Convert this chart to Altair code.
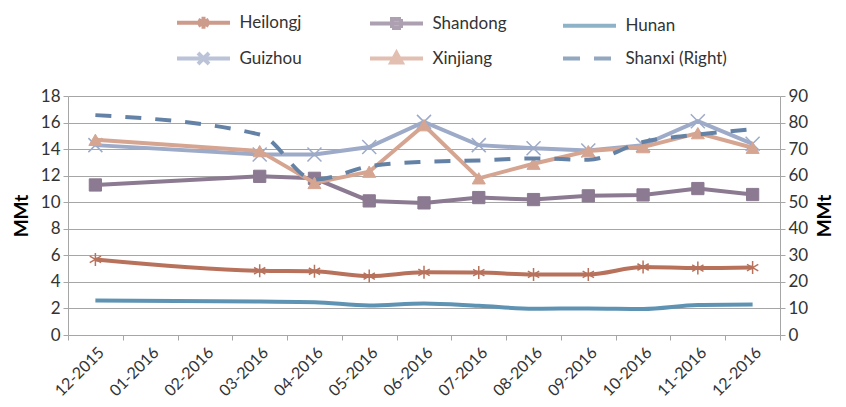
import altair as alt
import pandas as pd

months = ["12-2015", "01-2016", "02-2016", "03-2016", "04-2016", "05-2016", "06-2016",
          "07-2016", "08-2016", "09-2016", "10-2016", "11-2016", "12-2016"]
heilongj = [5.69, None, None, 4.84, 4.80, 4.44, 4.72, 4.70, 4.56, 4.56, 5.12, 5.04, 5.08]
shandong = [11.30, None, None, 11.95, 11.80, 10.10, 9.95, 10.35, 10.20, 10.48, 10.55, 11.03, 10.58]
hunan = [2.60, None, None, 2.52, 2.47, 2.22, 2.38, 2.20, 1.98, 2.00, 1.96, 2.26, 2.30]
guizhou = [14.30, None, None, 13.60, 13.60, 14.16, 16.05, 14.30, 14.06, 13.90, 14.30, 16.10, 14.40]
xinjiang = [14.70, None, None, 13.85, 11.45, 12.30, 15.80, 11.80, 12.90, 13.85, 14.15, 15.20, 14.10]
shanxi_right = [82.8, None, None, 75.5, 58.5, 63.5, 65.2, 65.7, 66.5, 66.0, 72.7, 75.5, 77.5]

series_names = ["Heilongj", "Shandong", "Hunan", "Guizhou", "Xinjiang", "Shanxi (Right)"]
series_colors = ["#b8725c", "#8b7a91", "#5f93b3", "#9daac8", "#d6a591", "#6482a6"]
series_values = [heilongj, shandong, hunan, guizhou, xinjiang, shanxi_right]

rows = []
for name, vals in zip(series_names, series_values):
    for i, (m, v) in enumerate(zip(months, vals)):
        if v is not None:
            rows.append({"month": m, "idx": i, "series": name, "value": v})
df = pd.DataFrame(rows)

FONT = "Lato"
TXT = "#333333"
GRID = "#a6a6a6"
LW = 4

# legend symbols: line segment with the series marker
legend_paths = [
    "M-5.3,0H5.3M0,-1.2V1.2M-1.05,-0.6L1.05,0.6M-1.05,0.6L1.05,-0.6",
    "M-5.3,0H5.3M-0.9,-0.9H0.9V0.9H-0.9Z",
    "M-5.3,0H5.3",
    "M-5.3,0H5.3M-1.1,-1.1L1.1,1.1M-1.1,1.1L1.1,-1.1",
    "M-5.3,0H5.3M0,-1.1L1.05,0.8H-1.05Z",
    "M-5.3,0H5.3",
]
legend_dash = [[1, 0], [1, 0], [1, 0], [1, 0], [1, 0], [17, 14]]

leg = alt.Legend(
    orient="none", legendX=127, legendY=-82, columns=3, direction="horizontal", title=None,
    symbolSize=100, symbolStrokeWidth=LW, labelOffset=27.5,
    labelFontSize=17, labelFont=FONT, labelColor=TXT,
    columnPadding=21, rowPadding=8, gridAlign="all",
)
color_scale = alt.Scale(domain=series_names, range=series_colors)

x_enc = alt.X(
    "month:O",
    scale=alt.Scale(type="band", domain=months, paddingInner=0, paddingOuter=0),
    bandPosition=0.5,
    axis=alt.Axis(
        title=None, labelAngle=-45, labelFontSize=16, labelFont=FONT, labelColor=TXT,
        tickBand="extent", domainColor=GRID, tickColor=GRID, tickSize=5,
        grid=False, labelPadding=4,
    ),
)
y_left = alt.Y(
    "value:Q",
    scale=alt.Scale(domain=[0, 18], nice=False),
    axis=alt.Axis(
        values=list(range(0, 19, 2)), title="MMt", titleFont=FONT, titleFontSize=19,
        titleFontWeight="bold", titleColor="#000000", titlePadding=9,
        labelFont=FONT, labelFontSize=17, labelColor=TXT,
        grid=True, gridColor=GRID, domainColor=GRID, tickColor=GRID, tickSize=5,
        labelPadding=3,
    ),
)
y_right = alt.Y(
    "value:Q",
    scale=alt.Scale(domain=[0, 90], nice=False),
    axis=alt.Axis(
        orient="right", values=list(range(0, 91, 10)), title="MMt", titleAngle=270,
        titleBaseline="top", titleFont=FONT, titleFontSize=19, titleFontWeight="bold",
        titleColor="#000000", titlePadding=8, labelFont=FONT, labelFontSize=17,
        labelColor=TXT, grid=False, domainColor=GRID, tickColor=GRID, tickSize=5,
        labelPadding=3,
    ),
)
order_enc = alt.Order("idx:Q")
base = alt.Chart(df)


def only(name):
    return alt.FieldEqualPredicate(field="series", equal=name)


smooth = {"Heilongj": True, "Shandong": False, "Hunan": True, "Guizhou": False, "Xinjiang": False}
markers = {
    "Heilongj": dict(shape="M0,-1V1M-0.87,-0.5L0.87,0.5M-0.87,0.5L0.87,-0.5", size=169, strokeWidth=1.5),
    "Shandong": dict(shape="square", size=150, strokeWidth=1),
    "Guizhou": dict(shape="M-1,-1L1,1M-1,1L1,-1", size=196, strokeWidth=1.5),
    "Xinjiang": dict(shape="triangle-up", size=170, strokeWidth=1),
}

left_layers = []
for name, col in zip(series_names[:5], series_colors[:5]):
    kw = dict(strokeWidth=LW, color=col)
    if smooth[name]:
        kw["interpolate"] = "monotone"
    left_layers.append(
        base.transform_filter(only(name)).mark_line(**kw).encode(x=x_enc, y=y_left, order=order_enc)
    )
    if name in markers:
        left_layers.append(
            base.transform_filter(only(name)).mark_point(
                filled=True, fill=col, stroke=col, opacity=1, **markers[name]
            ).encode(x=x_enc, y=y_left)
        )

legend_layer = base.transform_filter("false").mark_point(filled=True, strokeWidth=LW).encode(
    stroke=alt.Stroke("series:N", scale=color_scale, legend=leg),
    fill=alt.Fill("series:N", scale=color_scale, legend=leg),
    shape=alt.Shape("series:N", scale=alt.Scale(domain=series_names, range=legend_paths), legend=leg),
    strokeDash=alt.StrokeDash("series:N", scale=alt.Scale(domain=series_names, range=legend_dash), legend=leg),
)
left_layers.append(legend_layer)
left = alt.layer(*left_layers)

right = base.transform_filter(only("Shanxi (Right)")).mark_line(
    strokeWidth=LW, strokeDash=[16, 14], interpolate="monotone", color=series_colors[5]
).encode(x=x_enc, y=y_right, order=order_enc)

chart = alt.layer(left, right).resolve_scale(y="independent").properties(
    width=712, height=239,
    autosize=alt.AutoSizeParams(type="none"),
    padding={"left": 60, "top": 88, "right": 58, "bottom": 64},
    background="white",
).configure_view(stroke=None)

chart.save("out.html", embed_options={"renderer": "svg", "actions": False})
